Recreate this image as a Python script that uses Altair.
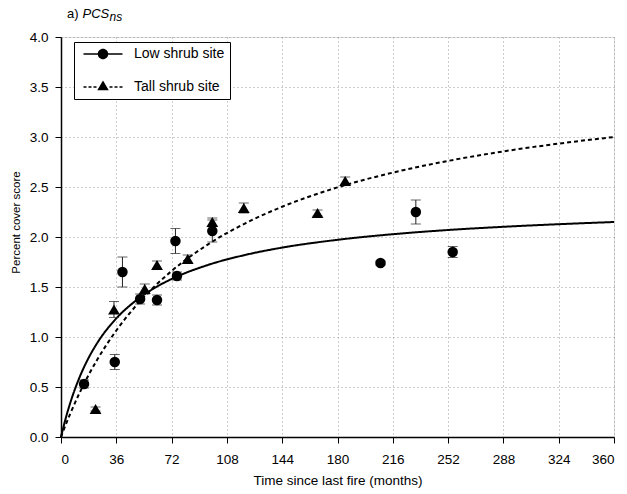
import altair as alt
import pandas as pd

# ---- data ----
low_x = [15, 35, 40, 51.5, 62.5, 74.5, 75.5, 98.5, 208, 231, 255]
low_y = [0.53, 0.75, 1.65, 1.38, 1.37, 1.96, 1.61, 2.06, 1.74, 2.25, 1.85]
low_err = [0.04, 0.075, 0.15, 0.05, 0.05, 0.125, 0.04, 0.11, 0.02, 0.12, 0.055]

tall_x = [22.5, 34.5, 54.5, 62.5, 82.5, 98.5, 119, 167, 185]
tall_y = [0.28, 1.275, 1.48, 1.72, 1.78, 2.15, 2.29, 2.24, 2.56]
tall_err = [0.02, 0.08, 0.05, 0.04, 0.04, 0.04, 0.05, 0.03, 0.04]

curve_x = [0, 1, 3, 6, 12, 18, 24, 36, 48, 60, 72, 96, 120, 144, 180, 216, 252, 288, 324, 360]
low_fit = [0, 0.064, 0.183, 0.340, 0.594, 0.792, 0.950, 1.186, 1.355, 1.482, 1.580, 1.722,
           1.821, 1.894, 1.972, 2.028, 2.070, 2.102, 2.128, 2.150]
tall_fit = [0, 0.041, 0.120, 0.232, 0.438, 0.621, 0.784, 1.065, 1.298, 1.493, 1.660, 1.929,
            2.137, 2.303, 2.496, 2.644, 2.761, 2.856, 2.934, 3.000]

sites = ["Low shrub site", "Tall shrub site"]
x_ticks = [0, 36, 72, 108, 144, 180, 216, 252, 288, 324, 360]
y_ticks = [0, 0.25, 0.5, 0.75, 1, 1.25, 1.5, 1.75, 2, 2.25, 2.5, 2.75, 3, 3.25, 3.5, 3.75, 4]

FONT = "Liberation Sans"

pts = pd.DataFrame({
    "x": low_x + tall_x,
    "y": low_y + tall_y,
    "err": low_err + tall_err,
    "site": [sites[0]] * len(low_x) + [sites[1]] * len(tall_x),
})
pts["lo"] = pts["y"] - pts["err"]
pts["hi"] = pts["y"] + pts["err"]

curves = pd.DataFrame({
    "x": curve_x + curve_x,
    "y": low_fit + tall_fit,
    "site": [sites[0]] * len(curve_x) + [sites[1]] * len(curve_x),
})

x_scale = alt.Scale(domain=[0, 360], nice=False, zero=False)
y_scale = alt.Scale(domain=[0, 4], nice=False)

x_axis = alt.Axis(
    values=x_ticks, title="Time since last fire (months)",
    grid=True, gridColor="#9a9a9a", gridDash=[1, 3], gridWidth=1,
    domainColor="black", domainWidth=1.5, tickColor="black", tickSize=6, tickWidth=1,
    labelFont=FONT, labelFontSize=13.5, labelColor="black", labelPadding=9,
    titleFont=FONT, titleFontSize=13.5, titleFontWeight="normal", titleColor="black",
    titleBaseline="alphabetic", titleY=47.5,
)
y_axis = alt.Axis(
    values=y_ticks, title="Percent cover score",
    labelExpr="datum.value % 0.5 == 0 ? format(datum.value, '.1f') : ''",
    tickSize={"condition": {"test": "datum.value % 0.5 != 0", "value": 3}, "value": 6},
    gridOpacity={"condition": {"test": "datum.value % 0.5 != 0", "value": 0}, "value": 1},
    grid=True, gridColor="#9a9a9a", gridDash=[1, 3], gridWidth=1,
    domainColor="black", domainWidth=1.5, tickColor="black", tickWidth=1,
    labelFont=FONT, labelFontSize=13.5, labelColor="black", labelPadding=7,
    titleFont=FONT, titleFontSize=11.5, titleFontWeight="normal", titleColor="black",
    titleAngle=270, titleBaseline="alphabetic", titleAlign="center", titleX=-41.5, titleY=185,
)

base_x = alt.X("x:Q", scale=x_scale, axis=x_axis)
base_y = alt.Y("y:Q", scale=y_scale, axis=y_axis)

lines = alt.Chart(curves).mark_line(color="black", strokeWidth=2, interpolate="monotone").encode(
    x=base_x, y=base_y,
    strokeDash=alt.StrokeDash("site:N", scale=alt.Scale(domain=sites, range=[[1, 0], [4, 3]]), legend=None),
)

err_rule = alt.Chart(pts).mark_rule(color="#222", strokeWidth=1).encode(
    x="x:Q", y="lo:Q", y2="hi:Q"
)
cap_lo = alt.Chart(pts).mark_tick(color="#222", orient="horizontal", size=10, thickness=1).encode(
    x="x:Q", y="lo:Q"
)
cap_hi = alt.Chart(pts).mark_tick(color="#222", orient="horizontal", size=10, thickness=1).encode(
    x="x:Q", y="hi:Q"
)

points = alt.Chart(pts).mark_point(filled=True, color="black", opacity=1).encode(
    x="x:Q", y="y:Q",
    shape=alt.Shape("site:N", scale=alt.Scale(domain=sites, range=["circle", "triangle-up"]), legend=None),
    size=alt.Size("site:N", scale=alt.Scale(domain=sites, range=[110, 140]), legend=None),
)

# legend symbols: filled outline of a line sample (solid / dashed) plus the marker
def seg(a, b, t=0.17):
    return f"M{a},{-t}H{b}V{t}H{a}Z"

low_path = (seg(-3.9, -0.9) + seg(0.9, 3.9)
            + "M-1.05,0A1.05,1.05 0 1,1 1.05,0A1.05,1.05 0 1,1 -1.05,0Z")
tall_path = (seg(-3.9, -3.3) + seg(-2.9, -2.3) + seg(-1.9, -1.3)
             + seg(1.3, 1.9) + seg(2.3, 2.9) + seg(3.3, 3.9)
             + "M0,-1.3L1.15,0.65L-1.15,0.65Z")

legend = alt.Legend(
    title=None, orient="none", legendX=13, legendY=5,
    padding=5, strokeColor="black", fillColor="white",
    symbolSize=100, symbolOffset=17, labelOffset=24, rowPadding=19,
    symbolFillColor="black", symbolStrokeWidth=0,
    labelFont=FONT, labelFontSize=14, labelColor="black",
)
legend_layer = alt.Chart(pts).transform_filter("datum.x < 0").mark_point(
    filled=True, color="black", opacity=1
).encode(
    x="x:Q", y="y:Q",
    shape=alt.Shape("site:N", scale=alt.Scale(domain=sites, range=[low_path, tall_path]), legend=legend),
)

one = pd.DataFrame({"t": ["a) "]})
t1 = alt.Chart(one).mark_text(align="left", baseline="alphabetic", font=FONT, fontSize=13,
                              color="black", x=6, y=-19.5).encode(text=alt.value("a) "))
t2 = alt.Chart(one).mark_text(align="left", baseline="alphabetic", font=FONT, fontSize=13,
                              fontStyle="italic", color="black", x=21.5, y=-19.5).encode(text=alt.value("PCS"))
t3 = alt.Chart(one).mark_text(align="left", baseline="alphabetic", font=FONT, fontSize=12,
                              fontStyle="italic", color="black", x=48.5, y=-16).encode(text=alt.value("ns"))

chart = alt.layer(lines, err_rule, cap_lo, cap_hi, points, legend_layer, t1, t2, t3).resolve_scale(
    shape="independent", size="independent"
).properties(
    width=553, height=400,
    autosize=alt.AutoSizeParams(type="none"),
    padding={"left": 61, "top": 37, "right": 13, "bottom": 57},
).configure_view(stroke="black", strokeWidth=1.2).configure(background="white")

chart.save("out.html", embed_options={"renderer": "svg", "actions": False})
